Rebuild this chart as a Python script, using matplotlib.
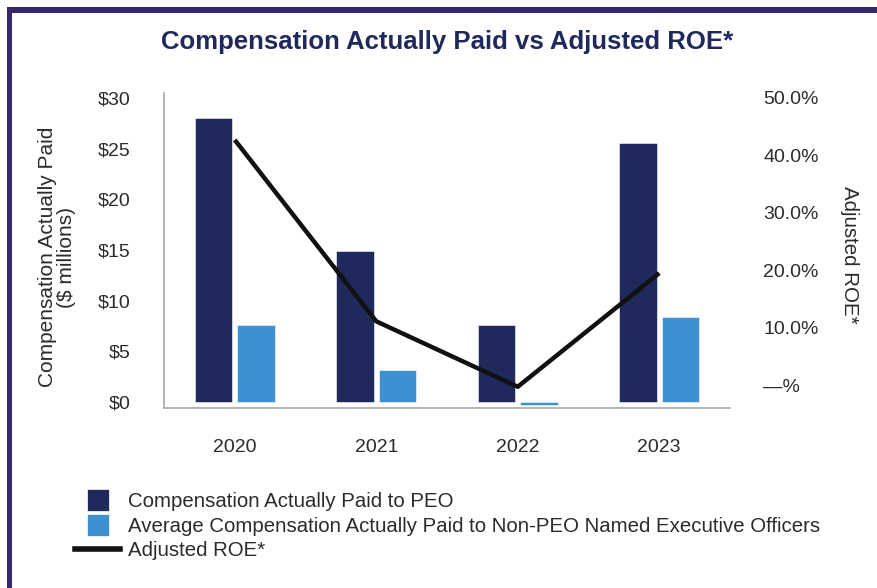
import matplotlib
matplotlib.use("Agg")
import matplotlib.pyplot as plt
from matplotlib.patches import Rectangle
from matplotlib.lines import Line2D
import numpy as np

plt.rcParams['font.family'] = ['Liberation Sans', 'DejaVu Sans']

years = ["2020", "2021", "2022", "2023"]
cap_peo = [28.0, 14.9, 7.6, 25.6]          # $ millions
cap_neo_avg = [7.6, 3.2, -0.3, 8.4]        # $ millions
adj_roe = [42.7, 11.1, -0.3, 19.5]         # percent

left_ticks = [0, 5, 10, 15, 20, 25, 30]
left_tick_labels = ["$0", "$5", "$10", "$15", "$20", "$25", "$30"]
right_ticks = [0, 10, 20, 30, 40, 50]
right_tick_labels = ["—%", "10.0%", "20.0%", "30.0%", "40.0%", "50.0%"]

NAVY = "#1f295b"
BLUE = "#3f90d1"
TEXT = "#2b2b2b"

W, H = 877, 588
fig = plt.figure(figsize=(W / 100, H / 100), dpi=100)

ax = fig.add_axes([164 / W, 1 - 408 / H, (730 - 164) / W, (408 - 93) / H])
ax2 = ax.twinx()

x = np.arange(len(years))
bw = 0.265
gap = 0.035
ax.bar(x - bw / 2 - gap / 2, cap_peo, width=bw, color=NAVY, edgecolor="white", linewidth=0.4, zorder=2)
ax.bar(x + bw / 2 + gap / 2, cap_neo_avg, width=bw, color=BLUE, edgecolor="white", linewidth=0.4, zorder=2)
ax2.plot(x, adj_roe, color="#111111", linewidth=3.2, solid_capstyle="butt", zorder=3)

ax.set_xlim(-0.5, 3.5)
ax.set_ylim(-0.59, 30.49)
ax2.set_ylim(-4.0, 50.87)

ax.set_xticks(x)
ax.set_xticklabels(years)
ax.set_yticks(left_ticks)
ax.set_yticklabels(left_tick_labels)
ax2.set_yticks(right_ticks)
ax2.set_yticklabels(right_tick_labels)

ax.tick_params(axis="x", length=0, pad=22, labelsize=14, labelcolor=TEXT)
ax.tick_params(axis="y", length=0, pad=24, labelsize=14, labelcolor=TEXT)
ax2.tick_params(axis="y", length=0, pad=24, labelsize=14, labelcolor=TEXT)

for a in (ax, ax2):
    for s in ("top", "right"):
        a.spines[s].set_visible(False)
ax2.spines["left"].set_visible(False)
ax2.spines["bottom"].set_visible(False)
ax.spines["left"].set_color("#a8a8a8")
ax.spines["bottom"].set_color("#a8a8a8")
ax.spines["left"].set_linewidth(1.2)
ax.spines["bottom"].set_linewidth(1.2)

fig.text(57 / W, 1 - 257 / H, "Compensation Actually Paid\n($ millions)", rotation=90,
         ha="center", va="center", fontsize=15, color=TEXT, linespacing=1.0)
fig.text(850 / W, 1 - 255 / H, "Adjusted ROE*", rotation=-90,
         ha="center", va="center", fontsize=14.8, color=TEXT)

fig.text(447 / W, 1 - 42 / H, "Compensation Actually Paid vs Adjusted ROE*",
         ha="center", va="center", fontsize=18.5, fontweight="bold", color=NAVY)

handles = [Line2D([0], [0], linestyle="none", marker="s", markersize=15.5,
                  markerfacecolor=NAVY, markeredgecolor="white", markeredgewidth=0.5),
           Line2D([0], [0], linestyle="none", marker="s", markersize=15.5,
                  markerfacecolor=BLUE, markeredgecolor="white", markeredgewidth=0.5),
           Line2D([0], [0], color="#111111", linewidth=4)]
labels = ["Compensation Actually Paid to PEO",
          "Average Compensation Actually Paid to Non-PEO Named Executive Officers",
          "Adjusted ROE*"]
fig.legend(handles, labels, loc="upper left", bbox_to_anchor=(65 / W, 1 - 482 / H),
           frameon=False, fontsize=14.7, handlelength=2.2,
           handletextpad=0.4, labelspacing=0.27, labelcolor=TEXT, borderpad=0)

# purple frame along top and left edges
fig.add_artist(Rectangle((7 / W, 1 - 13 / H), 1, 6 / H, transform=fig.transFigure,
                         facecolor="#35266e", edgecolor="none"))
fig.add_artist(Rectangle((7 / W, 0), 5 / W, 1 - 7 / H, transform=fig.transFigure,
                         facecolor="#35266e", edgecolor="none"))

fig.savefig("out.png", dpi=100)
